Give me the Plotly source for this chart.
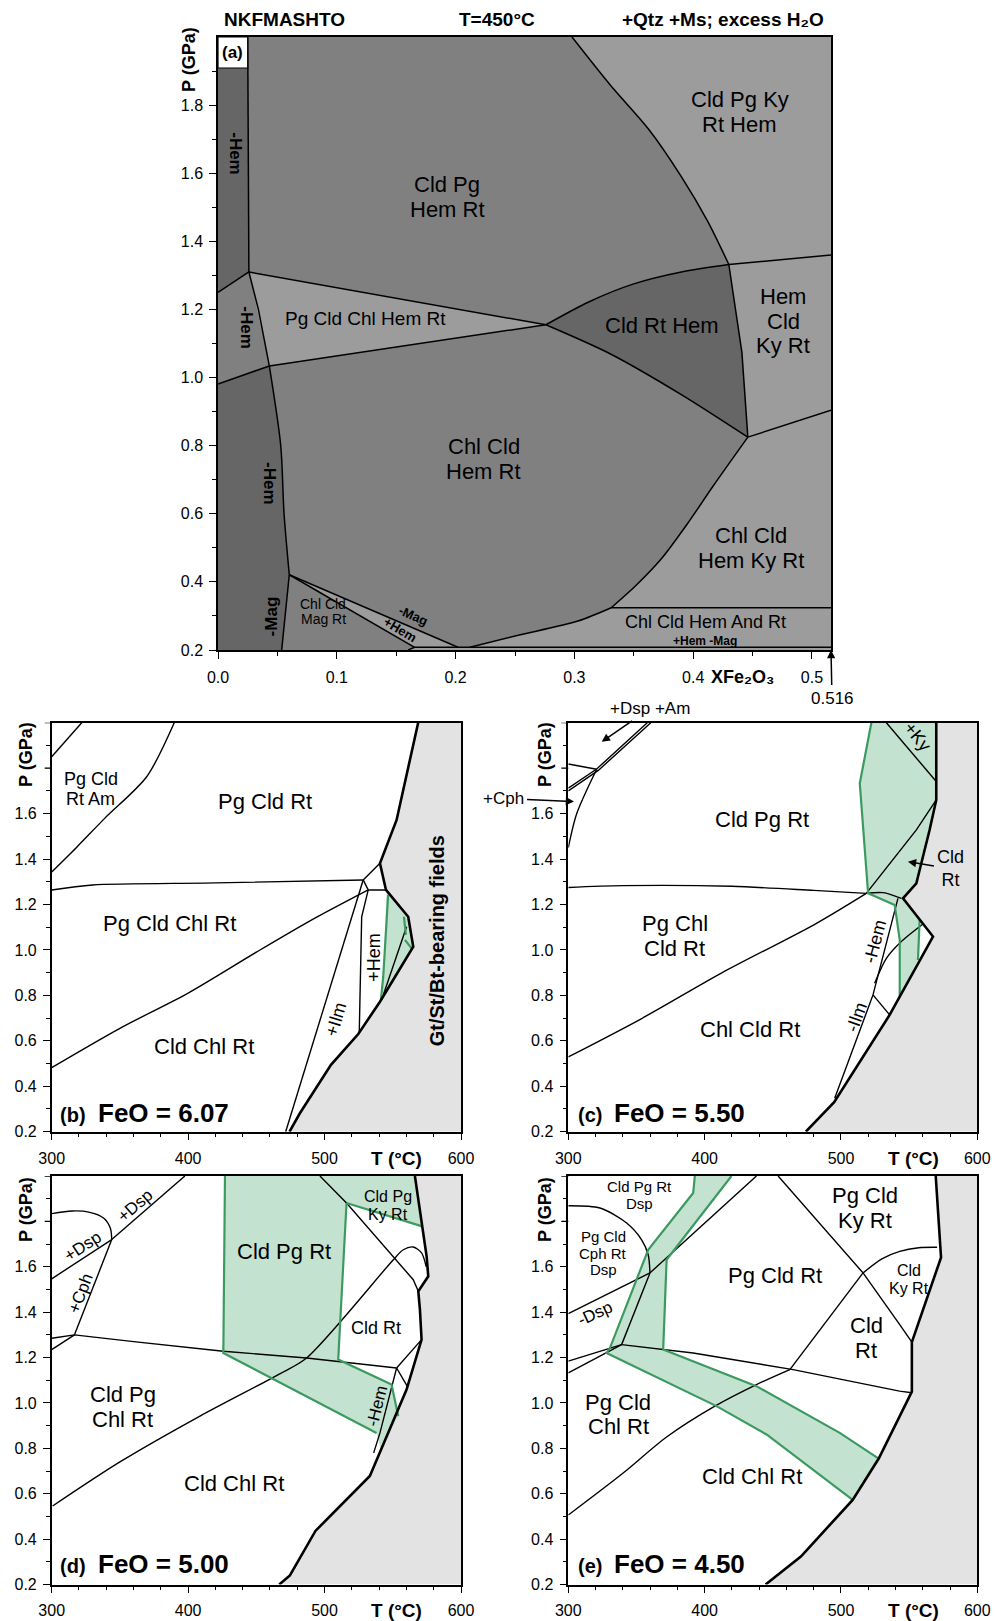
import plotly.graph_objects as go

W, H = 996, 1621
FONT = "Liberation Sans, Arial, sans-serif"

# ---------------- panel (a) : P - X(Fe2O3) section ----------------
a_strip_top = [(0.025, 2.0), (0.026, 1.31)]
a_left_upper = [(0.0, 1.25), (0.026, 1.31)]
a_hem_strip = [(0.026, 1.31), (0.034, 1.2), (0.0432, 1.034)]
a_left_lower = [(0.0, 0.981), (0.0432, 1.034)]
a_hem_lower = [(0.0432, 1.034), (0.0528, 0.8), (0.0556, 0.6), (0.060, 0.421)]
a_mag = [(0.060, 0.421), (0.0536, 0.2)]
a_AB = [(0.026, 1.31), (0.276, 1.155)]
a_CB = [(0.0432, 1.034), (0.276, 1.155)]
a_BG = [(0.276, 1.155), (0.312, 1.222), (0.35, 1.275), (0.39, 1.31), (0.43, 1.332)]
a_BF = [(0.276, 1.155), (0.33, 1.07), (0.39, 0.95), (0.446, 0.825)]
a_GF = [(0.43, 1.332), (0.441, 1.074), (0.446, 0.825)]
a_G_right = [(0.43, 1.332), (0.516, 1.36)]
a_F_right = [(0.446, 0.825), (0.516, 0.904)]
a_top_curve = [(0.298, 2.0), (0.33, 1.86), (0.363, 1.727), (0.39, 1.59), (0.412, 1.46), (0.43, 1.332)]
a_E_curve = [(0.331, 0.324), (0.352, 0.39), (0.373, 0.467), (0.395, 0.57), (0.4165, 0.68), (0.446, 0.825)]
a_E_right = [(0.331, 0.324), (0.516, 0.324)]
a_bottom_curve = [(0.212, 0.208), (0.251, 0.242), (0.303, 0.285), (0.331, 0.324)]
a_minus_mag = [(0.060, 0.421), (0.202, 0.208)]
a_plus_hem = [(0.060, 0.421), (0.1655, 0.208)]
a_base = [(0.16, 0.2), (0.1655, 0.208), (0.516, 0.208)]
a_xticks = [0.0, 0.1, 0.2, 0.3, 0.4, 0.5]
a_xminor = [0.05, 0.15, 0.25, 0.35, 0.45]
a_yticks = [0.2, 0.4, 0.6, 0.8, 1.0, 1.2, 1.4, 1.6, 1.8]
a_yminor = [0.3, 0.5, 0.7, 0.9, 1.1, 1.3, 1.5, 1.7, 1.9]
a_xmax = 0.516

# ---------------- panel (b) FeO = 6.07 ----------------
b_am = [(300, 1.85), (322, 2.0)]
b_pgam = [(300, 1.343), (318, 1.45), (339, 1.58), (369.6, 1.762), (389.8, 2.0)]
b_chl = [(300, 1.264), (330, 1.286), (420, 1.295), (528.3, 1.308)]
b_cldchl = [(300, 0.482), (350, 0.655), (400, 0.81), (450, 0.99), (490, 1.13), (532, 1.264)]
b_ilm = [(471.5, 0.2), (528.3, 1.308)]
b_hem = [(525.4, 0.63), (527.2, 1.146), (532, 1.264)]
b_j12 = [(528.3, 1.308), (540.6, 1.381)]
b_j13 = [(528.3, 1.308), (532, 1.264)]
b_j34 = [(532, 1.264), (545, 1.264)]
b_thick = [(474.3, 0.2), (481.9, 0.281), (504.7, 0.494), (524.7, 0.63), (540.6, 0.772), (565, 1.014),
           (561.3, 1.146), (545, 1.264), (540.6, 1.381), (552.8, 1.572), (568.6, 2.0)]
b_green_poly = [(545.5, 1.26), (561.3, 1.146), (565, 1.014), (540.6, 0.772), (543, 0.882)]
b_green_l = [(546.6, 1.242), (543, 0.882), (541.3, 0.78)]
b_inner = [(560.1, 1.102), (541.8, 0.78)]
b_green_r = [(558.2, 1.146), (559.6, 1.066)]
b_green_s = [(558.9, 1.044), (563.8, 1.007)]

# ---------------- panel (c) FeO = 5.50 ----------------
c_am1 = [(300, 1.700), (322, 1.79), (360.5, 2.0)]
c_am2 = [(300, 1.712), (320.8, 1.796), (357.9, 2.0)]
c_dsp = [(300, 1.818), (320.8, 1.795)]
c_cph = [(320.8, 1.795), (306.2, 1.60), (300, 1.45)]
c_chl = [(300, 1.275), (340, 1.283), (420, 1.28), (480, 1.262), (518.6, 1.249)]
c_arc = [(518.6, 1.249), (530.9, 1.252), (544.3, 1.227)]
c_cldrt = [(518.6, 1.249), (538.2, 1.396), (555.3, 1.528), (569.9, 1.66)]
c_pgout = [(300, 0.529), (353.5, 0.697), (412.9, 0.9), (481.1, 1.114), (518.6, 1.249)]
c_hem = [(541.8, 1.227), (523.5, 0.802), (495.4, 0.347)]
c_arc2 = [(524.7, 0.853), (533.3, 0.963), (544.3, 1.037), (560.2, 1.114)]
c_short = [(523.5, 0.802), (535.7, 0.714)]
c_ky = [(533.3, 2.0), (569.9, 1.741)]
c_green_l = [(522.3, 2.0), (513.8, 1.733), (519.9, 1.249), (539.4, 1.198), (543.1, 1.044), (543.1, 0.794)]
c_green_r = [(557.7, 1.133), (556.5, 0.956)]
c_thick = [(474.2, 0.2), (495, 0.33), (535.7, 0.714), (567.5, 1.059), (545.5, 1.227), (555.3, 1.293),
           (557.7, 1.352), (565.0, 1.528), (569.9, 1.66), (569.9, 2.0)]
c_green_poly = [(522.3, 2.0), (569.9, 2.0), (569.9, 1.66), (565.0, 1.528), (557.7, 1.352), (555.3, 1.293),
                (545.5, 1.227), (557.7, 1.133), (556.5, 0.956), (543.1, 0.794), (543.1, 1.044),
                (539.4, 1.198), (519.9, 1.249), (513.8, 1.733)]
c_arrow_dspam = (324.5, 1.916)
c_arrow_cph = (304.2, 1.653)
c_arrow_cldrt = (549.1, 1.388)

# ---------------- panel (d) FeO = 5.00 ----------------
d_dsp_arc = [(300, 1.834), (315, 1.846), (328, 1.84), (338, 1.815), (343, 1.77), (344, 1.72)]
d_dsp_up = [(344, 1.72), (397.6, 2.0)]
d_dsp_low = [(300, 1.547), (344, 1.72)]
d_cph = [(344, 1.72), (316.7, 1.30)]
d_cph_low = [(316.7, 1.30), (300, 1.235)]
d_chl = [(300, 1.285), (316.7, 1.30), (360, 1.27), (408.7, 1.238), (425.8, 1.228), (486.8, 1.198), (552.8, 1.154)]
d_pgout = [(300.7, 0.546), (350, 0.74), (408.7, 0.942), (466.1, 1.125), (486.8, 1.198), (550.4, 1.631),
           (557.7, 1.675), (565, 1.687), (571.1, 1.661), (574.5, 1.60)]
d_diag = [(496.6, 2.0), (516.1, 1.881), (565, 1.543), (568.7, 1.492)]
d_thick = [(466.8, 0.2), (474.6, 0.24), (493.3, 0.436), (533.2, 0.678), (560.1, 1.059), (571.1, 1.279),
           (569.9, 1.411), (568.7, 1.492), (576, 1.558), (574.8, 1.646), (566.2, 2.0)]
d_hem = [(552.8, 1.154), (540.6, 0.868), (536, 0.78)]
d_hem2 = [(552.8, 1.154), (571.1, 1.279)]
d_hem3 = [(552.8, 1.154), (561, 1.07)]
d_green_l = [(427, 2.0), (425.8, 1.22), (538.1, 0.868)]
d_green_r = [(516.1, 1.881), (510, 1.191), (549.1, 1.081), (554, 0.942)]
d_green_top = [(516.1, 1.881), (571.6, 1.778)]
d_green_poly1 = [(427, 2.0), (496.6, 2.0), (516.1, 1.881), (510, 1.191), (549.1, 1.081), (554, 0.942),
                 (541, 0.80), (538.1, 0.868), (425.8, 1.22)]
d_green_poly2 = [(496.6, 2.0), (566.2, 2.0), (571.6, 1.778), (516.1, 1.881)]

# ---------------- panel (e) FeO = 4.50 ----------------
e_dsp_arc = [(300, 1.869), (323.2, 1.859), (342.8, 1.793), (353.8, 1.719), (358.6, 1.653), (359.9, 1.573)]
e_dsp_line = [(300, 1.394), (359.9, 1.573), (438, 2.0)]
e_cph = [(359.9, 1.573), (339.1, 1.257)]
e_l1 = [(300, 1.184), (339.1, 1.257)]
e_l2 = [(300, 1.132), (339.1, 1.257)]
e_chl = [(339.1, 1.257), (391.6, 1.22), (464.9, 1.147), (543, 1.052), (552, 1.045)]
e_pgout_low = [(300, 0.506), (340, 0.69), (372.1, 0.85), (407.5, 0.986), (438, 1.081), (462.5, 1.147)]
e_pgout_up = [(462.5, 1.147), (516.2, 1.573)]
e_arc = [(516.2, 1.573), (530, 1.635), (543.1, 1.668), (557, 1.684), (570.5, 1.686)]
e_diag = [(453.9, 2.0), (516.2, 1.573), (543.1, 1.345), (552, 1.268)]
e_thick = [(444.7, 0.2), (470.6, 0.323), (508.6, 0.573), (527.7, 0.755), (552, 1.05), (552, 1.268),
           (573.4, 1.641), (569.5, 2.0)]
e_green_outer = [(392.8, 2.0), (391.6, 1.925), (358.6, 1.675), (330.6, 1.243), (328.1, 1.22),
                 (408.7, 0.986), (445.4, 0.861), (508.6, 0.573)]
e_green_inner = [(419.7, 2.0), (372.1, 1.631), (369.6, 1.235), (438, 1.074), (499.1, 0.868), (527.7, 0.755)]
e_green_poly = [(392.8, 2.0), (419.7, 2.0), (372.1, 1.631), (369.6, 1.235), (438, 1.074), (499.1, 0.868),
                (527.7, 0.755), (508.6, 0.573), (445.4, 0.861), (408.7, 0.986), (328.1, 1.22),
                (330.6, 1.243), (358.6, 1.675), (391.6, 1.925)]

T_ticks = [300, 400, 500, 600]
T_minor = [320, 340, 360, 380, 420, 440, 460, 480, 520, 540, 560, 580]
P_ticks = [0.2, 0.4, 0.6, 0.8, 1.0, 1.2, 1.4, 1.6]
P_unlabelled = [1.8, 2.0]
P_minor = [0.3, 0.5, 0.7, 0.9, 1.1, 1.3, 1.5, 1.7, 1.9]

# ---------------- styles ----------------
DARK, MID, LIGHT = "#666666", "#808080", "#9c9c9c"
GRAYZONE = "#e3e3e3"
GFILL, GLINE = "rgba(196,226,208,1)", "#3b9a60"

AX = {"a": ("x", "y"), "b": ("x2", "y2"), "c": ("x3", "y3"), "d": ("x4", "y4"), "e": ("x5", "y5")}
fig = go.Figure()
ann = []
shapes = []


def add_line(p, pts, w=1.4, color="black", shape="linear"):
    fig.add_trace(go.Scatter(x=[q[0] for q in pts], y=[q[1] for q in pts], mode="lines",
                             line=dict(color=color, width=w, shape=shape, smoothing=0.8),
                             xaxis=AX[p][0], yaxis=AX[p][1], hoverinfo="skip", showlegend=False))


def add_poly(p, pts, color):
    fig.add_trace(go.Scatter(x=[q[0] for q in pts], y=[q[1] for q in pts], mode="lines", fill="toself",
                             fillcolor=color, line=dict(width=0, color=color),
                             xaxis=AX[p][0], yaxis=AX[p][1], hoverinfo="skip", showlegend=False))


def lab(p, x, y, text, size=22, bold=False, angle=0, sp=None, xanchor="center"):
    lines = text.split("\n")
    n = len(lines)
    if sp is None:
        sp = size * 1.12
    for i, t in enumerate(lines):
        ann.append(dict(x=x, y=y, xref=AX[p][0], yref=AX[p][1], text=("<b>%s</b>" % t if bold else t),
                        showarrow=False, font=dict(family=FONT, size=size, color="black"),
                        textangle=angle, xanchor=xanchor, yanchor="middle",
                        yshift=((n - 1) / 2 - i) * sp))


def plab(px, py, text, size=18, bold=True, angle=0, xanchor="center"):
    ann.append(dict(x=px / W, y=1 - py / H, xref="paper", yref="paper",
                    text=("<b>%s</b>" % text if bold else text), showarrow=False,
                    font=dict(family=FONT, size=size, color="black"), textangle=angle,
                    xanchor=xanchor, yanchor="middle"))


def arrow_lab(p, tip, text, dxp, dyp, size=17):
    ann.append(dict(x=tip[0], y=tip[1], xref=AX[p][0], yref=AX[p][1], text=text, showarrow=True,
                    ax=dxp, ay=dyp, axref="pixel", ayref="pixel", arrowhead=2, arrowsize=1.1,
                    arrowwidth=1.5, arrowcolor="black", standoff=0, startstandoff=2,
                    font=dict(family=FONT, size=size, color="black")))


# ---------------- panel (a) drawing ----------------
add_poly("a", [(0, 0.2), (a_xmax, 0.2), (a_xmax, 2.0), (0, 2.0)], MID)
add_poly("a", [(0, 2.0)] + a_strip_top + [(0, 1.25)], DARK)
add_poly("a", [(0, 0.981)] + a_hem_lower + a_mag[1:] + [(0, 0.2)], DARK)
add_poly("a", a_top_curve + [(a_xmax, 1.36), (a_xmax, 2.0)], LIGHT)
add_poly("a", a_AB + a_CB[::-1], LIGHT)
add_poly("a", a_BG + a_GF[1:] + a_BF[::-1][1:], DARK)
add_poly("a", a_G_right + [(a_xmax, 0.904)] + a_GF[::-1], LIGHT)
add_poly("a", a_E_curve + [(a_xmax, 0.904), (a_xmax, 0.324)], LIGHT)
add_poly("a", a_bottom_curve + [(a_xmax, 0.324), (a_xmax, 0.208)], LIGHT)
add_poly("a", [(0.060, 0.421), (0.202, 0.208), (0.1655, 0.208)], LIGHT)
add_poly("a", [(0.16, 0.2), (a_xmax, 0.2), (a_xmax, 0.208), (0.1655, 0.208)], LIGHT)

for seg in [a_strip_top, a_left_upper, a_hem_strip, a_left_lower, a_mag, a_AB, a_CB,
            a_GF, a_G_right, a_F_right, a_E_right, a_minus_mag, a_plus_hem, a_base]:
    add_line("a", seg, w=1.5)
for seg in [a_hem_lower, a_BG, a_BF, a_top_curve, a_E_curve, a_bottom_curve]:
    add_line("a", seg, w=1.5, shape="spline")

lab("a", 0.439, 1.779, "Cld Pg Ky\nRt Hem", 22)
lab("a", 0.193, 1.53, "Cld Pg\nHem Rt", 22)
lab("a", 0.0148, 1.657, "-Hem", 17, bold=True, angle=90)
lab("a", 0.024, 1.146, "-Hem", 17, bold=True, angle=90)
lab("a", 0.124, 1.172, "Pg Cld Chl Hem Rt", 19)
lab("a", 0.374, 1.153, "Cld Rt Hem", 22)
lab("a", 0.4757, 1.165, "Hem\nCld\nKy Rt", 22)
lab("a", 0.2235, 0.76, "Chl Cld\nHem Rt", 22)
lab("a", 0.0438, 0.69, "-Hem", 17, bold=True, angle=90)
lab("a", 0.4487, 0.50, "Chl Cld\nHem Ky Rt", 22)
lab("a", 0.045, 0.30, "-Mag", 17, bold=True, angle=-90)
lab("a", 0.0884, 0.313, "Chl Cld\nMag Rt", 14)
lab("a", 0.164, 0.30, "-Mag", 13, bold=True, angle=24)
lab("a", 0.153, 0.259, "+Hem", 13, bold=True, angle=31)
lab("a", 0.41, 0.281, "Chl Cld Hem And Rt", 18)
lab("a", 0.41, 0.227, "+Hem -Mag", 12, bold=True)

shapes.append(dict(type="rect", xref="x", yref="y", x0=0, x1=0.025, y0=1.909, y1=2.0,
                   fillcolor="white", line=dict(color="black", width=1.2), layer="above"))
lab("a", 0.0125, 1.955, "(a)", 17, bold=True)

plab(284, 20, "NKFMASHTO", 19)
plab(497, 20, "T=450°C", 19)
plab(826, 20, "+Qtz +Ms; excess H₂O", 19, xanchor="right")
plab(189, 60, "P (GPa)", 18, angle=-90)
plab(742, 677, "XFe₂O₃", 18)
arrow_lab("a", (a_xmax, 0.2), "0.516", 1, 48, size=17)

# ---------------- panel (b) drawing ----------------
add_poly("b", b_thick + [(600, 2.0), (600, 0.2)], GRAYZONE)
add_poly("b", b_green_poly, GFILL)
for seg in [b_am, b_ilm, b_hem, b_j12, b_j13, b_j34, b_inner]:
    add_line("b", seg, w=1.4)
for seg in [b_pgam, b_chl, b_cldchl]:
    add_line("b", seg, w=1.4, shape="spline")
for seg in [b_green_l, b_green_r, b_green_s]:
    add_line("b", seg, w=2.2, color=GLINE)
add_line("b", b_thick, w=2.6)
lab("b", 328.8, 1.708, "Pg Cld\nRt Am", 18)
lab("b", 456.2, 1.655, "Pg Cld Rt", 22)
lab("b", 386.4, 1.116, "Pg Cld Chl Rt", 22)
lab("b", 411.5, 0.574, "Cld Chl Rt", 22)
lab("b", 508.3, 0.697, "+Ilm", 18, angle=-73)
lab("b", 536.2, 0.97, "+Hem", 18, angle=-90)
lab("b", 582.0, 1.04, "Gt/St/Bt-bearing fields", 20, bold=True, angle=-90)
plab(73, 1115, "(b)", 20)
plab(96, 1113, "FeO = 6.07", 26, xanchor="left")
plab(396, 1158, "T (°C)", 19)
plab(26, 755, "P (GPa)", 18, angle=-90)

# ---------------- panel (c) drawing ----------------
add_poly("c", c_thick + [(600, 2.0), (600, 0.2)], GRAYZONE)
add_poly("c", c_green_poly, GFILL)
for seg in [c_am1, c_am2, c_dsp, c_cldrt, c_hem, c_short, c_ky]:
    add_line("c", seg, w=1.4)
for seg in [c_cph, c_chl, c_arc, c_pgout, c_arc2]:
    add_line("c", seg, w=1.4, shape="spline")
for seg in [c_green_l, c_green_r]:
    add_line("c", seg, w=2.2, color=GLINE)
add_line("c", c_thick, w=2.6)
lab("c", 441.8, 1.572, "Cld Pg Rt", 22)
lab("c", 378, 1.061, "Pg Chl\nCld Rt", 22)
lab("c", 433.1, 0.652, "Chl Cld Rt", 22)
lab("c", 556.5, 1.939, "+Ky", 18, angle=51)
lab("c", 524.7, 1.036, "-Hem", 18, angle=-75)
lab("c", 511.3, 0.706, "-Ilm", 18, angle=-70)
arrow_lab("c", c_arrow_cldrt, "Cld<br>Rt", 43, 7, size=18)
arrow_lab("c", c_arrow_dspam, "+Dsp +Am", 48, -33, size=17)
arrow_lab("c", c_arrow_cph, "+Cph", -71, -3, size=17)
plab(590, 1115, "(c)", 20)
plab(612, 1113, "FeO = 5.50", 26, xanchor="left")
plab(913, 1158, "T (°C)", 19)
plab(545, 755, "P (GPa)", 18, angle=-90)

# ---------------- panel (d) drawing ----------------
add_poly("d", d_thick + [(600, 2.0), (600, 0.2)], GRAYZONE)
add_poly("d", d_green_poly1, GFILL)
add_poly("d", d_green_poly2, GFILL)
for seg in [d_dsp_up, d_dsp_low, d_cph, d_cph_low, d_chl, d_diag, d_hem, d_hem2, d_hem3]:
    add_line("d", seg, w=1.4)
for seg in [d_dsp_arc, d_pgout]:
    add_line("d", seg, w=1.4, shape="spline")
for seg in [d_green_l, d_green_r, d_green_top]:
    add_line("d", seg, w=2.2, color=GLINE)
add_line("d", d_thick, w=2.6)
lab("d", 470.5, 1.666, "Cld Pg Rt", 22)
lab("d", 546.4, 1.87, "Cld Pg\nKy Rt", 16)
lab("d", 537.6, 1.332, "Cld Rt", 18)
lab("d", 352.2, 0.983, "Cld Pg\nChl Rt", 22)
lab("d", 433.4, 0.647, "Cld Chl Rt", 22)
lab("d", 538.1, 0.986, "-Hem", 17, angle=-76)
lab("d", 322.7, 1.688, "+Dsp", 17, angle=-33)
lab("d", 361.4, 1.87, "+Dsp", 17, angle=-41)
lab("d", 321.2, 1.483, "+Cph", 17, angle=-69)
plab(73, 1566, "(d)", 20)
plab(96, 1564, "FeO = 5.00", 26, xanchor="left")
plab(396, 1610, "T (°C)", 19)
plab(26, 1210, "P (GPa)", 18, angle=-90)

# ---------------- panel (e) drawing ----------------
add_poly("e", e_thick + [(600, 2.0), (600, 0.2)], GRAYZONE)
add_poly("e", e_green_poly, GFILL)
for seg in [e_dsp_line, e_cph, e_l1, e_l2, e_chl, e_pgout_up, e_diag]:
    add_line("e", seg, w=1.4)
for seg in [e_dsp_arc, e_arc, e_pgout_low]:
    add_line("e", seg, w=1.4, shape="spline")
for seg in [e_green_outer, e_green_inner]:
    add_line("e", seg, w=2.2, color=GLINE)
add_line("e", e_thick, w=2.6)
lab("e", 352.5, 1.917, "Cld Pg Rt\nDsp", 15)
lab("e", 325.6, 1.660, "Pg Cld\nCph Rt\nDsp", 15)
lab("e", 319.6, 1.396, "-Dsp", 17, angle=-25)
lab("e", 451.5, 1.56, "Pg Cld Rt", 22)
lab("e", 517.4, 1.858, "Pg Cld\nKy Rt", 22)
lab("e", 549.6, 1.543, "Cld\nKy Rt", 16)
lab("e", 518.6, 1.285, "Cld\nRt", 22)
lab("e", 336.6, 0.949, "Pg Cld\nChl Rt", 22)
lab("e", 434.5, 0.678, "Cld Chl Rt", 22)
plab(590, 1566, "(e)", 20)
plab(612, 1564, "FeO = 4.50", 26, xanchor="left")
plab(913, 1610, "T (°C)", 19)
plab(545, 1210, "P (GPa)", 18, angle=-90)


# ---------------- axes ----------------
def axis(domain, rng, tv, tt, mv, anchor, standoff):
    return dict(domain=domain, range=rng, anchor=anchor, showline=True, linecolor="black", linewidth=1.5,
                mirror=True, ticks="outside", ticklen=7, tickwidth=1.3, tickcolor="black",
                tickmode="array", tickvals=tv, ticktext=tt, automargin=False,
                minor=dict(tickmode="array", tickvals=mv, ticklen=4, tickwidth=1.2, tickcolor="black",
                           ticks="outside"),
                showgrid=False, zeroline=False, fixedrange=True, ticklabelstandoff=standoff,
                tickfont=dict(family=FONT, size=16, color="black"))


def dx(x0, x1):
    return [x0 / W, x1 / W]


def dy(y0, y1):
    return [1 - y1 / H, 1 - y0 / H]


Ttxt = [str(t) for t in T_ticks]
layout = dict(width=W, height=H, margin=dict(l=0, r=0, t=0, b=0, autoexpand=False), autosize=False,
              paper_bgcolor="white", plot_bgcolor="white", showlegend=False, annotations=ann)
layout["xaxis"] = axis(dx(218, 831), [0, a_xmax], a_xticks, ["%.1f" % v for v in a_xticks], a_xminor, "y", 5)
layout["yaxis"] = axis(dy(37, 650), [0.2, 2.0], a_yticks, ["%.1f" % v for v in a_yticks], a_yminor, "x", 3)
pos = {"b": (51.7, 461, 722.7, 1131.7), "c": (568.3, 977.3, 722.7, 1131.7),
       "d": (51.7, 461, 1176, 1584.5), "e": (568.3, 977.3, 1176, 1584.5)}
for i, p in enumerate(["b", "c", "d", "e"]):
    n = i + 2
    x0, x1, y0, y1 = pos[p]
    layout["xaxis%d" % n] = axis(dx(x0, x1), [300, 600], T_ticks, Ttxt, T_minor, "y%d" % n, 4)
    layout["yaxis%d" % n] = axis(dy(y0, y1), [0.2, 2.0], P_ticks, ["%.1f" % v for v in P_ticks],
                                 P_minor, "x%d" % n, 3)
    for pv in P_unlabelled:
        shapes.append(dict(type="line", xref="paper", yref="y%d" % n, x0=(x0 - 7) / W, x1=x0 / W,
                           y0=pv, y1=pv, line=dict(color="black", width=1.3), layer="above"))
layout["shapes"] = shapes
fig.update_layout(**layout)
fig.write_html("out.html", config={"displayModeBar": False},
               post_script="document.body.style.margin='0px';document.body.style.padding='0px';"
                           "document.body.style.overflow='hidden';")
